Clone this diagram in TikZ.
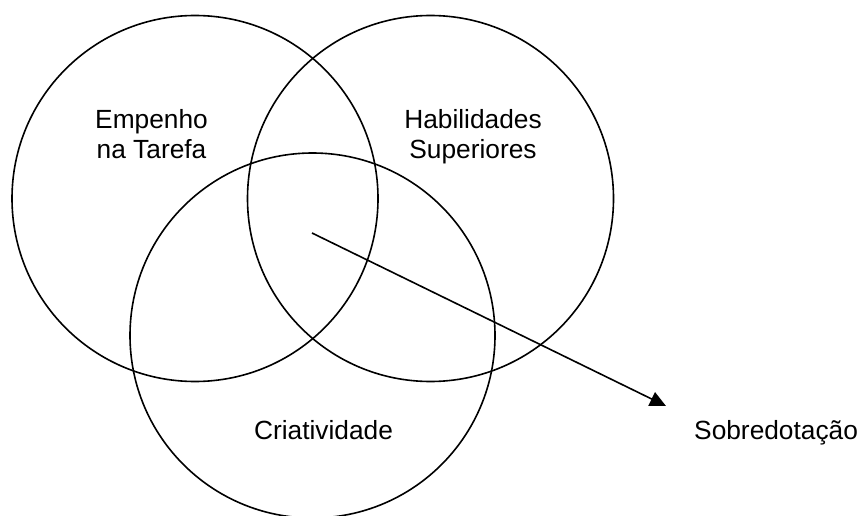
\documentclass[tikz,border=0pt]{standalone}
\usepackage{fontspec}
\setmainfont{Liberation Sans}
\usetikzlibrary{arrows.meta}
\begin{document}
\begin{tikzpicture}[x=1pt,y=-1pt,
  ring/.style={draw=black,line width=1.6pt},
  lbl/.style={font=\fontsize{26.3}{30}\selectfont,inner sep=0pt,align=center,anchor=base},
  conn/.style={draw=black,line width=1.6pt,-{Triangle[length=16pt,width=15pt]}}]
\useasboundingbox (0,0) rectangle (862,516);
\draw[ring] (195,198.5) circle[radius=183];
\draw[ring] (430.5,198.5) circle[radius=183];
\draw[ring] (312.5,335.5) circle[radius=182.5];
\node[lbl] (emp) at (151.5,159) {Empenho\\na Tarefa};
\node[lbl] (hab) at (473,158) {Habilidades\\Superiores};
\node[lbl] (cri) at (323.5,439) {Criatividade};
\node[lbl,anchor=base west] (sob) at (694,439) {Sobredotação};
\coordinate (c) at (312,233);
\coordinate (t) at (666,406);
\draw[conn] (c) -- (t);
\end{tikzpicture}
\end{document}
